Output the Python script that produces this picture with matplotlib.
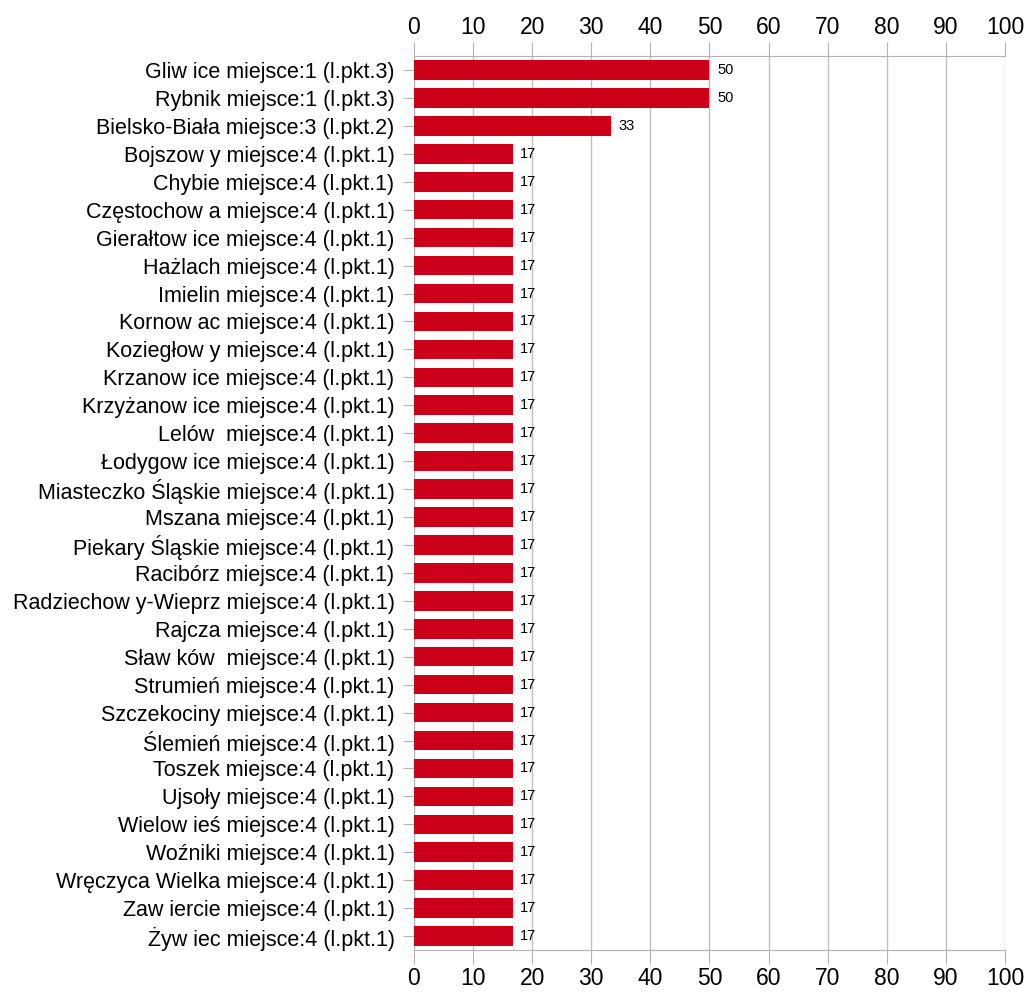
import matplotlib.pyplot as plt

plt.rcParams['font.family'] = ['Liberation Sans', 'DejaVu Sans']

# --- data ---
names = [
    "Gliw ice", "Rybnik", "Bielsko-Biała", "Bojszow y", "Chybie", "Częstochow a",
    "Gierałtow ice", "Hażlach", "Imielin", "Kornow ac", "Koziegłow y",
    "Krzanow ice", "Krzyżanow ice", "Lelów ", "Łodygow ice", "Miasteczko Śląskie",
    "Mszana", "Piekary Śląskie", "Racibórz", "Radziechow y-Wieprz", "Rajcza",
    "Sław ków ", "Strumień", "Szczekociny", "Ślemień", "Toszek", "Ujsoły",
    "Wielow ieś", "Woźniki", "Wręczyca Wielka", "Zaw iercie", "Żyw iec",
]
places = [1, 1, 3] + [4] * 29
points = [3, 3, 2] + [1] * 29
values = [50, 50, 33.33] + [16.67] * 29
value_labels = ["50", "50", "33"] + ["17"] * 29

labels = [f"{n} miejsce:{p} (l.pkt.{k})" for n, p, k in zip(names, places, points)]

fig = plt.figure(figsize=(10.26, 9.92), dpi=100)
ax = fig.add_axes([0.4035, 0.0423, 0.9795 - 0.4035, 0.9435 - 0.0423])

y = list(range(len(values)))
ax.barh(y, values, height=0.7, color="#cc0018", zorder=3)
for yi, v, lab in zip(y, values, value_labels):
    ax.text(v + 1.3, yi, lab, va="center", ha="left", fontsize=10.5, color="black")

ax.set_ylim(len(values) - 0.5, -0.5)
ax.set_xlim(0, 100)
ax.set_xticks(range(0, 101, 10))
ax.set_yticks(y)
ax.set_yticklabels(labels, fontsize=15.5)

ax.tick_params(axis="x", which="both", top=True, labeltop=True, bottom=True, labelbottom=True,
               length=10, color="#b3b3b3", labelsize=16.5, pad=2)
ax.tick_params(axis="y", length=8, color="#b3b3b3", pad=6)

ax.grid(axis="x", color="#c0c0c0", linewidth=1, zorder=0)
for s in ["top", "bottom", "left", "right"]:
    ax.spines[s].set_color("#b3b3b3")
ax.spines["right"].set_visible(False)

fig.savefig("out.png", dpi=100)
